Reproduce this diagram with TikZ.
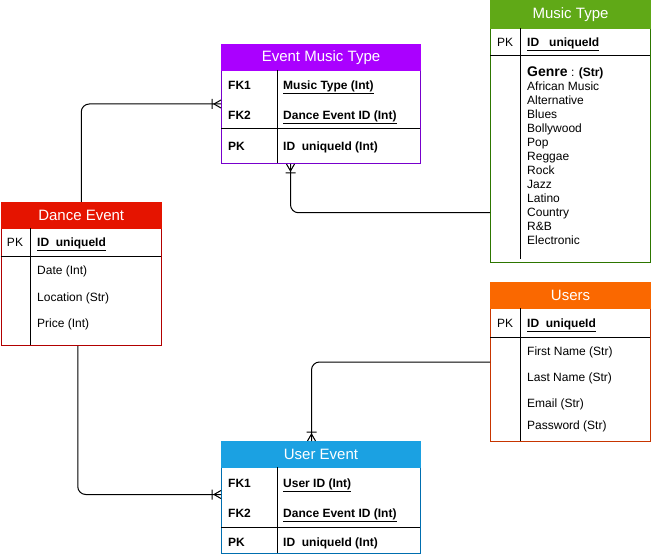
\documentclass[tikz,border=0pt]{standalone}
\usepackage{fontspec}
\setmainfont{Liberation Sans}
\definecolor{emtfill}{HTML}{AA00FF}
\definecolor{emtline}{HTML}{7700CC}
\definecolor{mtfill}{HTML}{60A917}
\definecolor{mtline}{HTML}{2D7600}
\definecolor{defill}{HTML}{E51400}
\definecolor{deline}{HTML}{B20000}
\definecolor{usfill}{HTML}{FA6800}
\definecolor{usline}{HTML}{C73500}
\definecolor{uefill}{HTML}{1BA1E2}
\definecolor{ueline}{HTML}{006EAF}
\begin{document}
\begin{tikzpicture}[x=1pt, y=-1pt,
        table/.style={draw=#1, line width=1pt, anchor=north west, inner sep=0pt},
        head/.style={fill=#1, draw=#1, line width=1pt, anchor=north west, inner sep=0pt,
            text=white, font=\fontsize{15}{17}\selectfont},
        sep/.style={line width=1pt, black},
        cell/.style={anchor=west, inner sep=0pt, text height=11pt, text depth=2pt,
            font=\fontsize{12}{14}\selectfont},
        keycell/.style={cell, font=\bfseries\fontsize{12}{14}\selectfont},
        link/.style={line width=1pt, rounded corners=8pt},
        crowfoot/.pic={\draw[line width=1pt] (-9pt,-5pt) -- (-9pt,5pt) (0pt,-4pt) -- (-7pt,0pt) -- (0pt,4pt);}]
        \useasboundingbox (0,0) rectangle (651,556);
        \node [table=emtline, minimum width=199pt, minimum height=119pt] (emt) at (221,44) {};
        \node [head=emtfill, minimum width=199pt, minimum height=26pt] (emthead) at (emt.north west) {Event Music Type};
        \draw [sep] (277,70) -- (277,163);
        \draw [sep] (221,129) -- (420,129);
        \node [keycell] (emtk1) at (228,85) {FK1};
        \node [keycell] (emtv1) at (283,85) {\underline{Music Type (Int)}};
        \node [keycell] (emtk2) at (228,115) {FK2};
        \node [keycell] (emtv2) at (283,115) {\underline{Dance Event ID (Int)}};
        \node [keycell] (emtk3) at (228,146) {PK};
        \node [keycell] (emtv3) at (283,146) {ID\ \ uniqueId (Int)};
        \node [table=mtline, minimum width=160pt, minimum height=261.5pt] (mt) at (490,0.5) {};
        \node [head=mtfill, minimum width=160pt, minimum height=27.5pt] (mthead) at (mt.north west) {Music Type};
        \draw [sep] (520,28) -- (520,259);
        \draw [sep] (490,56) -- (650,56);
        \node [cell, anchor=center] (mtk1) at (505,42) {PK};
        \node [keycell] (mtv1) at (527,42) {\underline{ID\ \ \ uniqueId}};
        \node [cell] (genre) at (527,72) {\textbf{\fontsize{14}{16}\selectfont Genre} : \textbf{(Str)}};
        \foreach \g [count=\i] in {African Music, Alternative, Blues, Bollywood, Pop, Reggae,
            Rock, Jazz, Latino, Country, {R\&B}, Electronic}
            \node [cell] (genre\i) at (527,72+14*\i) {\g};
        \node [table=deline, minimum width=160.5pt, minimum height=143pt] (de) at (0.5,202) {};
        \node [head=defill, minimum width=160.5pt, minimum height=26pt] (dehead) at (de.north west) {Dance Event};
        \draw [sep] (30,228) -- (30,345);
        \draw [sep] (0.5,257) -- (161,257);
        \node [cell, anchor=center] (dek1) at (15,242) {PK};
        \node [keycell] (dev1) at (37,242) {\underline{ID\ \ uniqueId}};
        \node [cell] (dev2) at (37,270) {Date (Int)};
        \node [cell] (dev3) at (37,297) {Location (Str)};
        \node [cell] (dev4) at (37,323) {Price (Int)};
        \node [table=usline, minimum width=160pt, minimum height=159pt] (us) at (490,282) {};
        \node [head=usfill, minimum width=160pt, minimum height=26pt] (ushead) at (us.north west) {Users};
        \draw [sep] (520,308) -- (520,441);
        \draw [sep] (490,337) -- (650,337);
        \node [cell, anchor=center] (usk1) at (505,323) {PK};
        \node [keycell] (usv1) at (527,323) {\underline{ID\ \ uniqueId}};
        \node [cell] (usv2) at (527,351) {First Name (Str)};
        \node [cell] (usv3) at (527,377) {Last Name (Str)};
        \node [cell] (usv4) at (527,403) {Email (Str)};
        \node [cell] (usv5) at (527,425) {Password (Str)};
        \node [table=ueline, minimum width=199pt, minimum height=112pt] (ue) at (221,441) {};
        \node [head=uefill, minimum width=199pt, minimum height=26pt] (uehead) at (ue.north west) {User Event};
        \draw [sep] (277,467) -- (277,553);
        \draw [sep] (221,527) -- (420,527);
        \node [keycell] (uek1) at (228,483) {FK1};
        \node [keycell] (uev1) at (283,483) {\underline{User ID (Int)}};
        \node [keycell] (uek2) at (228,513) {FK2};
        \node [keycell] (uev2) at (283,513) {\underline{Dance Event ID (Int)}};
        \node [keycell] (uek3) at (228,542) {PK};
        \node [keycell] (uev3) at (283,542) {ID\ \ uniqueId (Int)};
        \draw [link] (dehead.north) |- (emt.west);
        \pic at (emt.west) {crowfoot};
        \draw [link] ([xshift=-30.5pt]emt.south) |- ([yshift=-81pt]mt.west);
        \pic [rotate=90] at ([xshift=-30.5pt]emt.south) {crowfoot};
        \draw [link] ([xshift=-3.5pt]de.south) |- ([yshift=3pt]ue.west);
        \pic at ([yshift=3pt]ue.west) {crowfoot};
        \draw [link] (us.west) -| ([xshift=-9.5pt]ue.north);
        \pic [rotate=-90] at ([xshift=-9.5pt]ue.north) {crowfoot};
    \end{tikzpicture}
\end{document}
